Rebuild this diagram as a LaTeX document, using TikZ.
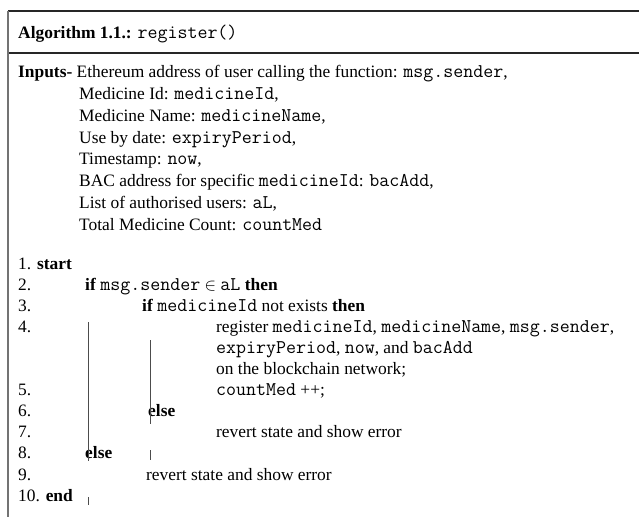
\documentclass[tikz,border=0pt]{standalone}
\usepackage{fontspec}
\setmainfont{Liberation Serif}
\usepackage{tikz}
\usetikzlibrary{positioning}
\tikzset{algtxt/.style = {anchor=base west, inner sep=0pt, font=\fontsize{17.4}{21}\selectfont}}
\tikzset{frameline/.style = {line width=1.2pt, black!85}}
\tikzset{bar/.style = {line width=1pt, black!70}}
\newcommand{\alcode}[1]{{\fontsize{19.4}{21}\selectfont\ttfamily #1}}

\begin{document}
\begin{tikzpicture}[x=1pt,y=-1pt]
                \useasboundingbox (0,0) rectangle (639,517);
                % frame
                \draw[frameline] (8,11) -- (639,11);
                \draw[frameline] (8,53) -- (639,53);
                \draw[line width=1.6pt, black!55] (8,11) -- (8,517);
                \node[algtxt] (title) at (18,38) {\textbf{Algorithm 1.1.:} \alcode{register()}};
                % inputs
                \node[algtxt] (in1) at (18,77) {\textbf{Inputs-} Ethereum address of user calling the function: \alcode{msg.sender},};
                \node[algtxt] (in2) at (79,99) {Medicine Id: \alcode{medicineId},};
                \node[algtxt] (in3) at (79,121) {Medicine Name: \alcode{medicineName},};
                \node[algtxt] (in4) at (79,143) {Use by date: \alcode{expiryPeriod},};
                \node[algtxt] (in5) at (79,164.5) {Timestamp: \alcode{now},};
                \node[algtxt] (in6) at (79,186.5) {BAC address for specific \alcode{medicineId}: \alcode{bacAdd},};
                \node[algtxt] (in7) at (79,208.5) {List of authorised users: \alcode{aL},};
                \node[algtxt] (in8) at (79,230.5) {Total Medicine Count: \alcode{countMed}};
                % steps
                \node[algtxt] (n1) at (18,269) {1. \textbf{start}};
                \node[algtxt] (n2) at (18,290.1) {2.};
                \node[algtxt] (n3) at (18,311.2) {3.};
                \node[algtxt] (n4) at (18,332.3) {4.};
                \node[algtxt] (n5) at (18,395.6) {5.};
                \node[algtxt] (n6) at (18,416.7) {6.};
                \node[algtxt] (n7) at (18,437.8) {7.};
                \node[algtxt] (n8) at (18,458.9) {8.};
                \node[algtxt] (n9) at (18,480) {9.};
                \node[algtxt] (n10) at (18,501.1) {10. \textbf{end}};
                \node[algtxt] (s2) at (85,290.1) {\textbf{if} \alcode{msg.sender} $\in$ \alcode{aL} \textbf{then}};
                \node[algtxt] (s3) at (142,311.2) {\textbf{if} \alcode{medicineId} not exists \textbf{then}};
                \node[algtxt] (s4a) at (216,332.3) {register \alcode{medicineId}, \alcode{medicineName}, \alcode{msg.sender},};
                \node[algtxt] (s4b) at (216,353.4) {\alcode{expiryPeriod}, \alcode{now}, and \alcode{bacAdd}};
                \node[algtxt] (s4c) at (216,374.5) {on the blockchain network;};
                \node[algtxt] (s5) at (216,395.6) {\alcode{countMed} ++;};
                \node[algtxt] (s6) at (148,416.7) {\textbf{else}};
                \node[algtxt] (s7) at (216,437.8) {revert state and show error};
                \node[algtxt] (s8) at (85,458.9) {\textbf{else}};
                \node[algtxt] (s9) at (146,480) {revert state and show error};
                % block bars
                \coordinate (b1top) at (88,322);
                \coordinate (b1bot) at (88,461);
                \coordinate (b2top) at (150,340);
                \coordinate (b2bot) at (150,424);
                \coordinate (t1top) at (150,450);
                \coordinate (t1bot) at (150,460);
                \coordinate (t2top) at (88,497);
                \coordinate (t2bot) at (88,505);
                \draw[bar] (b1top) -- (b1bot);
                \draw[bar] (b2top) -- (b2bot);
                \draw[bar] (t1top) -- (t1bot);
                \draw[bar] (t2top) -- (t2bot);
            \end{tikzpicture}
\end{document}
